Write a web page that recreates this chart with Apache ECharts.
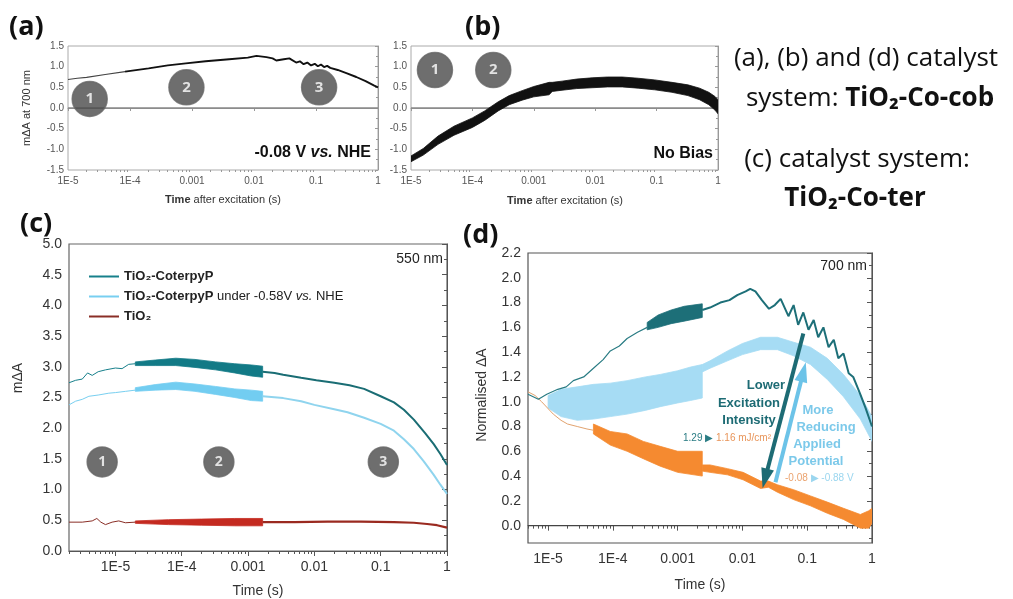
<!DOCTYPE html>
<html><head><meta charset="utf-8">
<script src="https://cdn.jsdelivr.net/npm/echarts@6/dist/echarts.min.js"></script>
<style>html,body{margin:0;padding:0;background:#fff}#c{width:1013px;height:599px}</style>
</head><body><div id="c"></div>
<script>
// ---- tick labels (x positions are log10 of time in s) ----
const decadeTicks = [-5, -4, -3, -2, -1, 0];
const decadeLabels = ['1E-5', '1E-4', '0.001', '0.01', '0.1', '1'];
const dYTicks = [0, 0.2, 0.4, 0.6, 0.8, 1.0, 1.2, 1.4, 1.6, 1.8, 2.0, 2.2];
const dYMinor = [-0.1, 0.1, 0.3, 0.5, 0.7, 0.9, 1.1, 1.3, 1.5, 1.7, 1.9, 2.1];

// ---- panel (a): [log10 t, mΔA] ----
const aCurveEarly = [[-5.0,0.69],[-4.85,0.72],[-4.7,0.74],[-4.4,0.81],[-4.08,0.88]];
const aCurve = [[-4.08,0.88],[-3.7,0.96],[-3.39,1.03],[-3.1,1.08],[-2.78,1.13],[-2.4,1.18],[-2.1,1.22],[-1.96,1.26],[-1.8,1.23],[-1.7,1.20],[-1.64,1.15],[-1.52,1.18],[-1.43,1.20],[-1.32,1.10],[-1.26,1.13],[-1.2,1.06],[-1.14,1.10],[-1.08,1.03],[-1.02,1.07],[-0.97,1.01],[-0.92,1.05],[-0.87,0.99],[-0.82,1.02],[-0.77,0.97],[-0.65,0.92],[-0.5,0.84],[-0.35,0.75],[-0.2,0.65],[-0.06,0.54],[0,0.5]];
const aBadges = [[-4.65,0.22],[-3.09,0.5],[-0.95,0.5]];

// ---- panel (b): [log10 t, low, high] ----
const bBand = [[-5.0,-1.30,-1.16],[-4.8,-1.14,-0.98],[-4.56,-0.88,-0.68],[-4.3,-0.66,-0.44],[-4.0,-0.47,-0.24],[-3.8,-0.30,-0.07],[-3.58,-0.07,0.15],[-3.4,0.08,0.30],[-3.19,0.19,0.42],[-3.0,0.27,0.52],[-2.75,0.32,0.62],[-2.7,0.40,0.62],[-2.54,0.43,0.65],[-2.3,0.47,0.70],[-2.05,0.49,0.73],[-1.8,0.51,0.75],[-1.56,0.51,0.75],[-1.3,0.48,0.72],[-1.03,0.44,0.68],[-0.75,0.38,0.62],[-0.49,0.30,0.56],[-0.3,0.20,0.48],[-0.15,0.08,0.38],[-0.05,-0.05,0.28],[0,-0.14,0.20]];
const bBadges = [[-4.61,0.92],[-3.66,0.92]];

// ---- panel (c): [log10 t, mΔA] and bands [log10 t, low, high] ----
const cTealA = [[-5.7,2.74],[-5.6,2.78],[-5.5,2.80],[-5.42,2.90],[-5.35,2.86],[-5.26,2.92],[-5.15,2.95],[-5.0,2.98],[-4.9,2.97],[-4.8,3.04],[-4.7,3.05]];
const cTealBand = [[-4.7,3.02,3.08],[-4.4,3.02,3.11],[-4.09,3.02,3.14],[-3.8,2.99,3.12],[-3.49,2.95,3.08],[-3.2,2.9,3.05],[-2.95,2.85,3.03],[-2.78,2.83,3.01]];
const cTealB = [[-2.78,2.92],[-2.6,2.90],[-2.47,2.87],[-2.2,2.82],[-1.97,2.78],[-1.7,2.74],[-1.47,2.70],[-1.25,2.64],[-1.0,2.52],[-0.8,2.42],[-0.65,2.30],[-0.5,2.14],[-0.33,1.92],[-0.2,1.74],[-0.1,1.58],[0,1.40]];
const cBlueA = [[-5.7,2.38],[-5.6,2.44],[-5.5,2.47],[-5.4,2.52],[-5.26,2.54],[-5.1,2.57],[-5.0,2.58],[-4.85,2.60],[-4.7,2.62]];
const cBlueBand = [[-4.7,2.60,2.66],[-4.4,2.62,2.71],[-4.09,2.63,2.75],[-3.8,2.60,2.72],[-3.49,2.55,2.68],[-3.2,2.50,2.64],[-2.95,2.45,2.62],[-2.78,2.44,2.60]];
const cBlueB = [[-2.78,2.52],[-2.47,2.49],[-2.2,2.44],[-2.0,2.38],[-1.7,2.31],[-1.5,2.26],[-1.25,2.17],[-1.0,2.07],[-0.8,1.96],[-0.65,1.82],[-0.5,1.66],[-0.35,1.46],[-0.2,1.24],[-0.1,1.08],[0,0.93]];
const cRedA = [[-5.7,0.47],[-5.5,0.47],[-5.35,0.49],[-5.28,0.53],[-5.22,0.47],[-5.15,0.43],[-5.05,0.47],[-4.95,0.49],[-4.85,0.46],[-4.7,0.47]];
const cRedBand = [[-4.7,0.45,0.49],[-4.2,0.43,0.51],[-3.7,0.42,0.52],[-3.2,0.41,0.53],[-2.78,0.41,0.53]];
const cRedB = [[-2.78,0.47],[-2.3,0.47],[-1.8,0.48],[-1.3,0.48],[-0.8,0.47],[-0.5,0.46],[-0.3,0.44],[-0.15,0.42],[0,0.38]];
const cBadges = [[-5.2,1.45],[-3.44,1.45],[-0.96,1.45]];
const cNames = ['TiO₂-CoterpyP', 'TiO₂-CoterpyP under -0.58V vs. NHE', 'TiO₂'];

// ---- panel (d): normalised ΔA ----
const dTealA = [[-5.31,1.06],[-5.15,1.02],[-5.02,1.06],[-4.85,1.10],[-4.72,1.12],[-4.61,1.17],[-4.45,1.20],[-4.30,1.27],[-4.15,1.34],[-4.04,1.41],[-3.9,1.45],[-3.78,1.51],[-3.62,1.56],[-3.47,1.60]];
const dTealBand = [[-3.47,1.58,1.64],[-3.3,1.60,1.70],[-3.1,1.63,1.74],[-2.9,1.65,1.77],[-2.62,1.68,1.79]];
const dTealB = [[-2.62,1.74],[-2.5,1.76],[-2.34,1.80],[-2.2,1.82],[-2.08,1.86],[-1.95,1.89],[-1.88,1.91],[-1.8,1.89],[-1.7,1.82],[-1.59,1.75],[-1.5,1.78],[-1.41,1.83],[-1.29,1.69],[-1.21,1.78],[-1.14,1.62],[-1.06,1.72],[-0.98,1.58],[-0.90,1.66],[-0.83,1.52],[-0.75,1.60],[-0.67,1.44],[-0.59,1.50],[-0.52,1.35],[-0.44,1.39],[-0.36,1.23],[-0.29,1.20],[-0.18,1.06],[-0.1,0.95],[-0.02,0.83],[0,0.80]];
const dBlueBandA = [[-5.0,0.95,1.05],[-4.8,0.88,1.10],[-4.55,0.85,1.12],[-4.3,0.86,1.14],[-4.04,0.88,1.15],[-3.78,0.90,1.17],[-3.5,0.93,1.20],[-3.27,0.96,1.22],[-3.0,0.99,1.25],[-2.8,1.01,1.28],[-2.62,1.03,1.30]];
const dBlueBandB = [[-2.62,1.24,1.30],[-2.5,1.27,1.33],[-2.23,1.33,1.41],[-2.0,1.38,1.47],[-1.72,1.42,1.52],[-1.46,1.42,1.52],[-1.21,1.37,1.48],[-0.95,1.30,1.44],[-0.69,1.18,1.35],[-0.44,1.04,1.22],[-0.18,0.86,1.05],[0,0.68,0.88]];
const dOrangeA = [[-5.31,1.08],[-5.2,1.05],[-5.1,1.0],[-4.92,0.90],[-4.8,0.85],[-4.7,0.82],[-4.55,0.80],[-4.4,0.78],[-4.3,0.77]];
const dOrangeBandA = [[-4.3,0.74,0.82],[-4.04,0.65,0.76],[-3.78,0.60,0.74],[-3.53,0.54,0.68],[-3.27,0.48,0.64],[-3.0,0.43,0.60],[-2.62,0.40,0.60]];
const dOrangeBandB = [[-2.62,0.44,0.49],[-2.5,0.43,0.49],[-2.23,0.41,0.46],[-1.99,0.37,0.43],[-1.72,0.30,0.36],[-1.6,0.31,0.36],[-1.46,0.27,0.33],[-1.21,0.21,0.29],[-0.95,0.16,0.24],[-0.69,0.10,0.19],[-0.44,0.05,0.14],[-0.18,-0.02,0.09],[-0.05,-0.02,0.12],[0,0.02,0.14]];
const dArrowDown = [[-1.06,1.55],[-1.65,0.38]];
const dArrowUp = [[-1.49,0.35],[-1.06,1.24]];

// ---------------- build ----------------
const FONT = '"Liberation Sans", Arial, sans-serif';
const minorLog = [];
for (let n = -6; n < 0; n++) for (let k = 2; k <= 9; k++) minorLog.push(n + Math.log10(k));
const xExt = [[-5, 0], [-5, 0], [-5.7, 0], [-5.31, 0]];
const grids = [
  {left: 68, top: 46, width: 310, height: 124, show: true, borderColor: '#aaa', borderWidth: 1, outerBoundsMode: 'none'},
  {left: 411, top: 46, width: 307, height: 124, show: true, borderColor: '#aaa', borderWidth: 1, outerBoundsMode: 'none'},
  {left: 69, top: 244, width: 378, height: 307, show: true, borderColor: '#666', borderWidth: 1.2, outerBoundsMode: 'none'},
  {left: 528, top: 253, width: 344, height: 290, show: true, borderColor: '#555', borderWidth: 1.2, outerBoundsMode: 'none'}
];
const small = [true, true, false, false];
const xAxes = [];
grids.forEach((g, i) => {
  const lc = small[i] ? '#999' : '#555';
  const ext = xExt[i];
  xAxes.push({type: 'value', gridIndex: i, min: ext[0], max: ext[1],
    axisLine: {show: true, lineStyle: {color: lc}},
    axisTick: {show: true, customValues: decadeTicks.filter(v => v >= ext[0]), length: small[i] ? 3 : 5, lineStyle: {color: lc}},
    axisLabel: {customValues: decadeTicks.filter(v => v >= ext[0]),
      formatter: v => decadeLabels[decadeTicks.indexOf(Math.round(v))],
      fontSize: small[i] ? 10 : 14, color: small[i] ? '#555' : '#333', fontFamily: FONT, margin: small[i] ? 6 : 9},
    splitLine: {show: false}});
  xAxes.push({type: 'value', gridIndex: i, min: ext[0], max: ext[1], position: 'bottom',
    axisLine: {show: false}, axisLabel: {show: false}, splitLine: {show: false},
    axisTick: {show: true, customValues: minorLog.filter(v => v > ext[0] && v < ext[1]), length: small[i] ? 2 : 3, lineStyle: {color: lc}}});
});
const yFmt = v => v.toFixed(1);
const yAxes = [
  {type: 'value', gridIndex: 0, min: -1.5, max: 1.5, interval: 0.5, axisLine: {show: true, lineStyle: {color: '#999'}}, axisTick: {show: true, length: 3, lineStyle: {color: '#999'}}, minorTick: {show: true, splitNumber: 2, length: 2, lineStyle: {color: '#999'}}, splitLine: {show: false}, axisLabel: {formatter: yFmt, fontSize: 10, color: '#555', fontFamily: FONT, margin: 4}},
  {type: 'value', gridIndex: 1, min: -1.5, max: 1.5, interval: 0.5, axisLine: {show: true, lineStyle: {color: '#999'}}, axisTick: {show: true, length: 3, lineStyle: {color: '#999'}}, minorTick: {show: true, splitNumber: 2, length: 2, lineStyle: {color: '#999'}}, splitLine: {show: false}, axisLabel: {formatter: yFmt, fontSize: 10, color: '#555', fontFamily: FONT, margin: 4}},
  {type: 'value', gridIndex: 2, min: 0, max: 5, interval: 0.5, axisLine: {show: true, lineStyle: {color: '#555'}}, axisTick: {show: true, length: 5, lineStyle: {color: '#555'}}, minorTick: {show: true, splitNumber: 2, length: 3, lineStyle: {color: '#555'}}, splitLine: {show: false}, axisLabel: {formatter: yFmt, fontSize: 14, color: '#333', fontFamily: FONT, margin: 7}},
  {type: 'value', gridIndex: 3, min: -0.14, max: 2.2, axisLine: {show: true, lineStyle: {color: '#555'}}, axisTick: {show: true, customValues: dYTicks, length: 5, lineStyle: {color: '#555'}}, splitLine: {show: false}, axisLabel: {customValues: dYTicks, formatter: yFmt, fontSize: 14, color: '#333', fontFamily: FONT, margin: 7}},
  {type: 'value', gridIndex: 3, min: -0.14, max: 2.2, position: 'left', axisLine: {show: false}, axisLabel: {show: false}, splitLine: {show: false}, axisTick: {show: true, customValues: dYMinor, length: 3, lineStyle: {color: '#555'}}}
];

function line(name, data, xi, yi, color, width, z) {
  return {type: 'line', name, data, xAxisIndex: xi, yAxisIndex: yi, showSymbol: false, symbol: 'none', silent: true,
    lineStyle: {color, width}, itemStyle: {color}, z: z || 2, animation: false, clip: true};
}
function band(data, xi, yi, color, z, opacity) {
  return {type: 'custom', xAxisIndex: xi, yAxisIndex: yi, data, z: z || 2, clip: true, silent: true, animation: false,
    encode: {x: 0, y: [1, 2]},
    renderItem: (params, api) => {
      if (params.dataIndex !== 0) return null;
      const up = data.map(d => api.coord([d[0], d[2]]));
      const lo = data.slice().reverse().map(d => api.coord([d[0], d[1]]));
      return {type: 'polygon', shape: {points: up.concat(lo)}, style: {fill: color, stroke: color, lineWidth: 0.8, opacity: opacity || 1}};
    }};
}
function badges(data, xi, yi, size, fs) {
  return {type: 'scatter', data, xAxisIndex: xi, yAxisIndex: yi, symbolSize: size, z: 6, silent: true, animation: false,
    itemStyle: {color: '#4a4a4a', borderColor: '#666', borderWidth: 1.5},
    label: {show: true, position: 'inside', formatter: p => String(p.dataIndex + 1), color: '#fff', fontWeight: 'bold', fontSize: fs, fontFamily: '"Open Sans", sans-serif'}};
}
function zero(xi, yi, ext, color) {
  return {type: 'line', data: [[ext[0], 0], [ext[1], 0]], xAxisIndex: xi, yAxisIndex: yi, symbol: 'none', silent: true,
    lineStyle: {color, width: 1.3}, z: 1, animation: false};
}

const tealC = '#17808b', blueC = '#78cff0', redC = '#c42a20', redDark = '#8a2e26';
const tealD = '#1d6f78', blueD = '#a6dcf4', orangeD = '#f58a30';

const series = [
  // (a)
  zero(0, 0, xExt[0], '#888'),
  line('a0', aCurveEarly, 0, 0, '#444', 1.2),
  line('a', aCurve, 0, 0, '#111', 1.9),
  badges(aBadges, 0, 0, 35, 15),
  // (b)
  zero(2, 1, xExt[1], '#888'),
  band(bBand, 2, 1, '#111'),
  badges(bBadges, 2, 1, 35, 15),
  // (c)
  line(cNames[0], cTealA, 4, 2, tealC, 1),
  band(cTealBand, 4, 2, '#127a86'),
  line(cNames[0], cTealB, 4, 2, '#1a6d74', 2),
  line(cNames[1], cBlueA, 4, 2, blueC, 1),
  band(cBlueBand, 4, 2, '#72cdf1'),
  line(cNames[1], cBlueB, 4, 2, '#8fd4ee', 2),
  line(cNames[2], cRedA, 4, 2, redDark, 1),
  band(cRedBand, 4, 2, redC),
  line(cNames[2], cRedB, 4, 2, '#9a2a20', 2.2),
  badges(cBadges, 4, 2, 30, 14),
  // (d)
  zero(6, 3, xExt[3], '#444'),
  line('dO1', dOrangeA, 6, 3, '#e2a36f', 1),
  band(dOrangeBandA, 6, 3, orangeD),
  band(dOrangeBandB, 6, 3, orangeD),
  band(dBlueBandA, 6, 3, blueD),
  band(dBlueBandB, 6, 3, blueD),
  line('dT1', dTealA, 6, 3, '#2a7c84', 1.2, 3),
  band(dTealBand, 6, 3, tealD, 3),
  line('dT2', dTealB, 6, 3, tealD, 2, 3),
  {type: 'line', data: [], xAxisIndex: 6, yAxisIndex: 3, silent: true, z: 5, animation: false,
    markLine: {silent: true, animation: false, symbol: ['none', 'triangle'], symbolSize: [13, 20], label: {show: false},
      data: [
        [{coord: dArrowDown[0], lineStyle: {color: '#1d6b74', width: 4, type: 'solid'}, itemStyle: {color: '#1d6b74'}}, {coord: dArrowDown[1]}],
        [{coord: dArrowUp[0], lineStyle: {color: '#6cc3e8', width: 4, type: 'solid'}, itemStyle: {color: '#6cc3e8'}}, {coord: dArrowUp[1]}]
      ]}}
];

function T(x, y, text, font, fill, align, extra) {
  return {type: 'text', x, y, silent: true, z: 100,
    style: Object.assign({text, font, fill: fill || '#111', align: align || 'left', verticalAlign: 'middle'}, extra || {})};
}
const OS = '"Open Sans", sans-serif';
const graphic = [
  T(9, 27, '(a)', 'bold 27px ' + OS, '#111'),
  T(465, 27, '(b)', 'bold 27px ' + OS, '#111'),
  T(20, 224, '(c)', 'bold 27px ' + OS, '#111'),
  T(463, 235, '(d)', 'bold 27px ' + OS, '#111'),
  Object.assign(T(27, 108, 'mΔA at 700 nm', '11px ' + FONT, '#333', 'center'), {rotation: Math.PI / 2}),
  T(223, 200, '{b|Time} after excitation (s)', '11px ' + FONT, '#333', 'center', {rich: {b: {fontWeight: 'bold', fontSize: 11, fontFamily: FONT, fill: '#333'}}}),
  T(565, 201, '{b|Time} after excitation (s)', '11px ' + FONT, '#333', 'center', {rich: {b: {fontWeight: 'bold', fontSize: 11, fontFamily: FONT, fill: '#333'}}}),
  T(371, 153, '{b|-0.08 V }{bi|vs.}{b| NHE}', 'bold 16px ' + FONT, '#111', 'right', {rich: {b: {fontWeight: 'bold', fontSize: 16, fontFamily: FONT, fill: '#111'}, bi: {fontWeight: 'bold', fontStyle: 'italic', fontSize: 16, fontFamily: FONT, fill: '#111'}}}),
  T(713, 154, 'No Bias', 'bold 16px ' + FONT, '#111', 'right'),
  Object.assign(T(18, 378, 'mΔA', '14px ' + FONT, '#333', 'center'), {rotation: Math.PI / 2}),
  T(258, 591, 'Time (s)', '14px ' + FONT, '#333', 'center'),
  T(443, 259, '550 nm', '14px ' + FONT, '#222', 'right'),
  Object.assign(T(482, 395, 'Normalised ΔA', '14px ' + FONT, '#333', 'center'), {rotation: Math.PI / 2}),
  T(700, 585, 'Time (s)', '14px ' + FONT, '#333', 'center'),
  T(867, 266, '700 nm', '14px ' + FONT, '#222', 'right'),
  T(766, 385, 'Lower', 'bold 13px ' + FONT, '#1d6b74', 'center'),
  T(749, 403, 'Excitation', 'bold 13px ' + FONT, '#1d6b74', 'center'),
  T(749, 420, 'Intensity', 'bold 13px ' + FONT, '#1d6b74', 'center'),
  T(683, 438, '{t|1.29 ▶ }{o|1.16 mJ/cm²}', '10px ' + FONT, '#1d6b74', 'left', {rich: {t: {fontSize: 10, fontFamily: FONT, fill: '#2a7c84'}, o: {fontSize: 10, fontFamily: FONT, fill: '#e8955a'}}}),
  T(818, 410, 'More', 'bold 13px ' + FONT, '#7cc9ea', 'center'),
  T(826, 427, 'Reducing', 'bold 13px ' + FONT, '#7cc9ea', 'center'),
  T(817, 444, 'Applied', 'bold 13px ' + FONT, '#7cc9ea', 'center'),
  T(816, 461, 'Potential', 'bold 13px ' + FONT, '#7cc9ea', 'center'),
  T(785, 478, '{o|-0.08 }{b|▶ -0.88 V}', '10px ' + FONT, '#e8955a', 'left', {rich: {o: {fontSize: 10, fontFamily: FONT, fill: '#eba36f'}, b: {fontSize: 10, fontFamily: FONT, fill: '#9bd6ef'}}}),
  T(866, 59, '(a), (b) and (d) catalyst', '26px ' + OS, '#111', 'center'),
  T(870, 99, 'system: {b|TiO₂-Co-cob}', '26px ' + OS, '#111', 'center', {rich: {b: {fontWeight: 'bold', fontSize: 26, fontFamily: OS, fill: '#111'}}}),
  T(857, 160, '(c) catalyst system:', '26px ' + OS, '#111', 'center'),
  T(855, 199, '{b|TiO₂-Co-ter}', '26px ' + OS, '#111', 'center', {rich: {b: {fontWeight: 'bold', fontSize: 26, fontFamily: OS, fill: '#111'}}})
];

const legendRich = {b: {fontWeight: 'bold', fontSize: 13, fontFamily: FONT, color: '#222'}, i: {fontStyle: 'italic', fontSize: 13, fontFamily: FONT, color: '#222'}, r: {fontSize: 13, fontFamily: FONT, color: '#222'}};
const option = {
  animation: false,
  backgroundColor: '#fff',
  grid: grids,
  xAxis: xAxes,
  yAxis: yAxes,
  legend: {data: cNames, orient: 'vertical', left: 84, top: 265, itemWidth: 30, itemHeight: 2, itemGap: 7, icon: 'rect',
    selectedMode: false,
    formatter: n => n === cNames[1] ? '{b|TiO₂-CoterpyP}{r| under -0.58V }{i|vs.}{r| NHE}' : '{b|' + n + '}',
    textStyle: {fontSize: 13, fontFamily: FONT, color: '#222', rich: legendRich}},
  series,
  graphic
};
echarts.init(document.getElementById('c')).setOption(option);
</script>
</body></html>
